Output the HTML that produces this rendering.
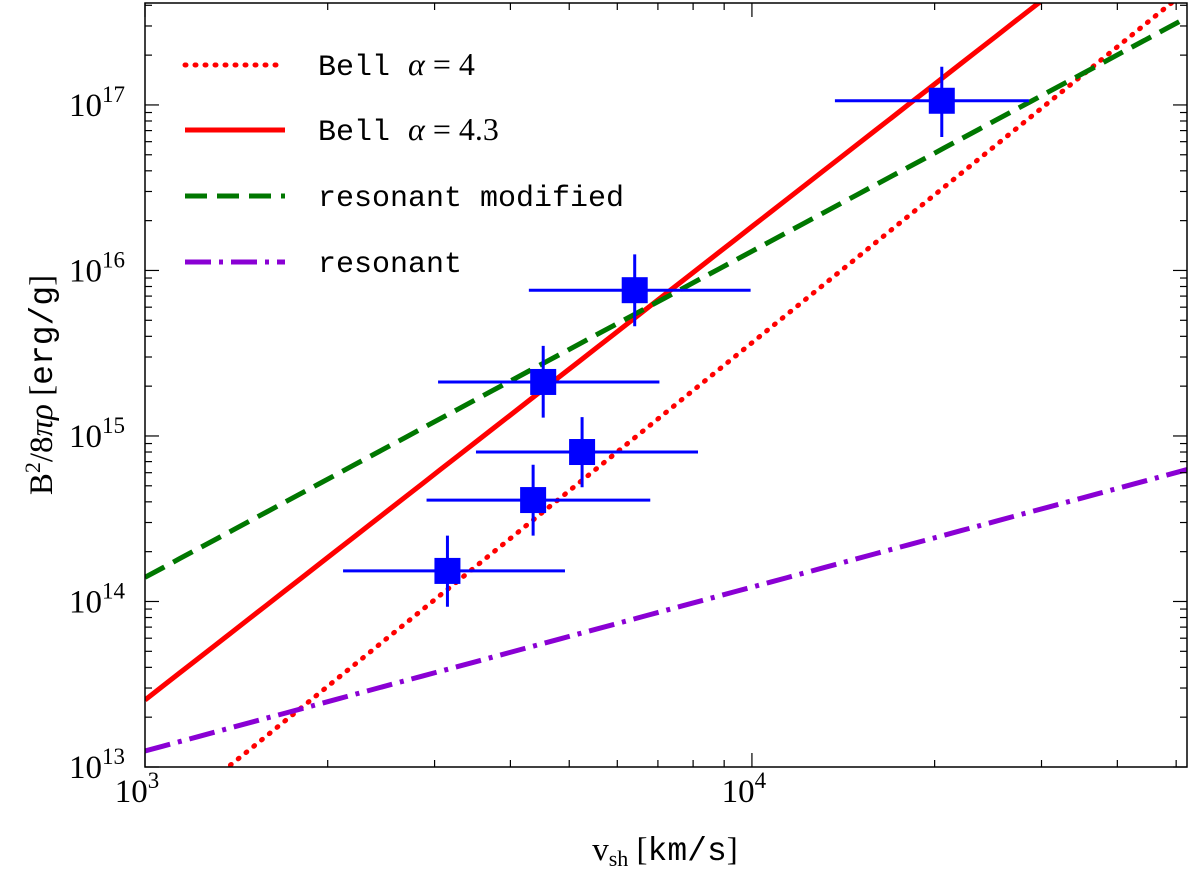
<!DOCTYPE html>
<html><head><meta charset="utf-8"><style>
body{margin:0;background:#fff}
svg text{font-family:"Liberation Serif",serif;fill:#000}
.mono{font-family:"Liberation Mono",monospace}
</style></head><body>
<svg id="chart" width="1200" height="877" viewBox="0 0 1200 877" xmlns="http://www.w3.org/2000/svg">
<g id="plot"></g>
</svg>
<script>
// data
const xDomain=[1000,52100];
const yDomain=[1e13,4.13e17];
const lineNames=["bell-alpha-4","bell-alpha-4-3","resonant-modified","resonant"];
const lineAmp=[1e13/Math.pow(1371,2.97),2.54e13/Math.pow(1000,2.86),1.4e14/Math.pow(1000,1.97),1.25e13/Math.pow(1000,0.99)];
const lineExp=[2.97,2.86,1.97,0.99];
const lineColors=["#ff0000","#ff0000","#007700","#8a00d4"];
const lineDash=["1,9","","22,10","26,8,4,8"];
const lineCap=["round","butt","butt","butt"];
const legendLabels=["Bell α = 4","Bell α = 4.3","resonant modified","resonant"];
const ptX=[3150,4360,5250,4530,6410,20550];
const ptY=[1.53e14,4.1e14,8e14,2.12e15,7.6e15,1.06e17];
const ptXlo=[2120,2910,3510,3040,4290,13700];
const ptXhi=[4920,6800,8150,7040,9950,28600];
const ptYlo=[9.3e13,2.5e14,4.9e14,1.29e15,4.6e15,6.4e16];
const ptYhi=[2.5e14,6.7e14,1.3e15,3.5e15,1.25e16,1.7e17];
const xTickVals=[1e3,1e4];
const xTickLabels=["3","4"];
const yTickVals=[1e13,1e14,1e15,1e16,1e17];
const yTickLabels=["13","14","15","16","17"];

const L=145,R=1187,T=3,B=767;
const lg=Math.log10;
function sx(v){return L+(lg(v)-lg(xDomain[0]))/(lg(xDomain[1])-lg(xDomain[0]))*(R-L);}
function sy(v){return B-(lg(v)-lg(yDomain[0]))/(lg(yDomain[1])-lg(yDomain[0]))*(B-T);}
const NS="http://www.w3.org/2000/svg";
const g=document.getElementById('plot');
function mk(tag,attrs,parent){const e=document.createElementNS(NS,tag);for(const k in attrs)e.setAttribute(k,attrs[k]);(parent||g).appendChild(e);return e;}

const defs=mk('defs',{});
const cp=mk('clipPath',{id:'clip'},defs);
mk('rect',{x:L,y:T,width:R-L,height:B-T},cp);
const lines=mk('g',{'clip-path':'url(#clip)'});



for(let i=0;i<lineExp.length;i++){
  let d="";
  for(let k=0;k<=60;k++){
    const x=Math.pow(10,lg(xDomain[0])+k/60*(lg(xDomain[1])-lg(xDomain[0])));
    const y=lineAmp[i]*Math.pow(x,lineExp[i]);
    d+=(k?"L":"M")+sx(x).toFixed(1)+","+sy(y).toFixed(1);
  }
  const p=mk('path',{d:d,fill:'none',stroke:lineColors[i],'stroke-width':5,'stroke-dasharray':lineDash[i],'stroke-linecap':lineCap[i]},lines);
  
  
}
for(let i=0;i<ptX.length;i++){
  const gp=mk('g',{},lines);
  
  
  const cx=sx(ptX[i]),cy=sy(ptY[i]);
  mk('line',{x1:sx(ptXlo[i]),x2:sx(ptXhi[i]),y1:cy,y2:cy,stroke:'#0000ff','stroke-width':3},gp);
  mk('line',{x1:cx,x2:cx,y1:sy(ptYlo[i]),y2:sy(ptYhi[i]),stroke:'#0000ff','stroke-width':3},gp);
  mk('rect',{x:cx-13,y:cy-13,width:26,height:26,fill:'#0000ff'},gp);
}
const fr=mk('rect',{x:L,y:T,width:R-L,height:B-T,fill:'none',stroke:'#000','stroke-width':1.5});


const tk=mk('g',{stroke:'#000','stroke-width':1.2});


for(let e=3;e<=4;e++)for(let m=1;m<10;m++){
  const v=m*Math.pow(10,e);if(v>xDomain[1])continue;
  const x=sx(v),len=m==1?14:7;
  mk('line',{x1:x,x2:x,y1:B,y2:B-len},tk);mk('line',{x1:x,x2:x,y1:T,y2:T+len},tk);
}
for(let e=13;e<=17;e++)for(let m=1;m<10;m++){
  const v=m*Math.pow(10,e);if(v>yDomain[1])continue;
  const y=sy(v),len=m==1?14:7;
  mk('line',{x1:L,x2:L+len,y1:y,y2:y},tk);mk('line',{x1:R,x2:R-len,y1:y,y2:y},tk);
}
xTickVals.forEach((v,i)=>{
  const t=mk('text',{x:sx(v)-8,y:B+35,'font-size':33,'text-anchor':'middle'});
  
  
  t.innerHTML='10<tspan dy="-14" font-size="23">'+xTickLabels[i]+'</tspan>';
});
yTickVals.forEach((v,i)=>{
  const t=mk('text',{x:L-48,y:sy(v)+11,'font-size':33,'text-anchor':'middle'});
  
  
  t.innerHTML='10<tspan dy="-14" font-size="23">'+yTickLabels[i]+'</tspan>';
});
const xt=mk('text',{x:665,y:860,'font-size':33,'text-anchor':'middle'});


xt.innerHTML='v<tspan dy="6" font-size="22">sh</tspan><tspan dy="-6"> [</tspan><tspan class="mono">km/s</tspan>]';
const yt=mk('text',{x:0,y:0,'font-size':33,'text-anchor':'middle',transform:'translate(52,385) rotate(-90)'});


yt.innerHTML='B<tspan dy="-12" font-size="22">2</tspan><tspan dy="12">/8</tspan><tspan font-style="italic">πρ</tspan> [<tspan class="mono">erg/g</tspan>]';
const lgG=mk('g',{});


const ly=[65,130,196,262];
for(let i=0;i<4;i++){
  const e=mk('g',{},lgG);
  
  
  mk('line',{x1:185,x2:285,y1:ly[i],y2:ly[i],stroke:lineColors[i],'stroke-width':5,'stroke-dasharray':lineDash[i],'stroke-linecap':lineCap[i]},e);
  const t=mk('text',{x:318,y:ly[i]+10,'font-size':30,class:'mono'},e);
  const lab=legendLabels[i];
  if(lab.indexOf('α')>=0){
    const parts=lab.split('α');
    t.innerHTML=parts[0]+'<tspan font-family="Liberation Serif" font-style="italic" font-size="32">α</tspan><tspan font-family="Liberation Serif" font-size="32">'+parts[1]+'</tspan>';
  } else t.textContent=lab;
}
</script>
</body></html>
